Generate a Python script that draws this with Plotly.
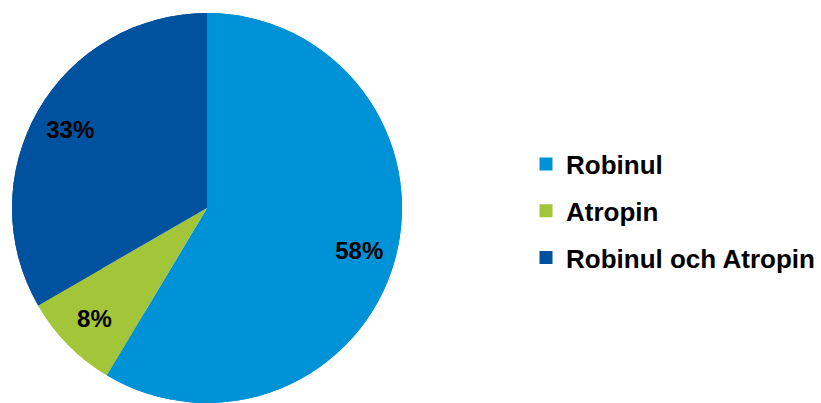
import plotly.graph_objects as go

labels = ["Robinul", "Atropin", "Robinul och Atropin"]
values = [58, 8, 33]
text_labels = ["58%", "8%", "33%"]
colors = ["#0092D6", "#A2C53A", "#00519E"]

W, H = 821, 403
FONT = "Liberation Sans, Arial, sans-serif"
dom = dict(x=[12 / W, 402 / W], y=[0, 1 - 13 / H])

fig = go.Figure()
# base full pie (no text)
fig.add_trace(go.Pie(
    labels=labels, values=values, textinfo="none",
    marker=dict(colors=colors, line=dict(width=0)),
    sort=False, direction="clockwise", rotation=0,
    domain=dom, showlegend=False, hoverinfo="skip",
))
# ring on top carrying the labels (pushes text outward)
fig.add_trace(go.Pie(
    labels=labels, values=values, text=text_labels, hole=0.62,
    textinfo="text", textposition="inside", insidetextorientation="horizontal",
    textfont=dict(family=FONT, size=24, color="black", weight="bold"),
    marker=dict(colors=colors, line=dict(width=0)),
    sort=False, direction="clockwise", rotation=0,
    domain=dom, showlegend=False, hoverinfo="label+text",
))
for lab, col in zip(labels, colors):
    fig.add_trace(go.Scatter(
        x=[None], y=[None], mode="markers", name=lab,
        marker=dict(symbol="square", size=13, color=col),
        legendgroup=lab, showlegend=True,
    ))

fig.update_layout(
    width=W, height=H,
    margin=dict(l=0, r=0, t=0, b=0),
    paper_bgcolor="white", plot_bgcolor="white",
    xaxis=dict(visible=False), yaxis=dict(visible=False),
    legend=dict(
        x=526 / W, xanchor="left", y=1 - 211 / H, yanchor="middle",
        font=dict(family=FONT, size=26, color="black", weight="bold"),
        tracegroupgap=10, bgcolor="rgba(0,0,0,0)",
    ),
)
fig.write_html("out.html")
